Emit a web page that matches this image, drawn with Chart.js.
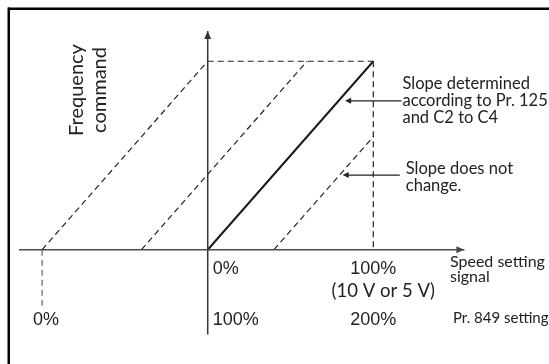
<!DOCTYPE html>
<html>
<head>
<meta charset="utf-8">
<script src="https://cdn.jsdelivr.net/npm/chart.js@4"></script>
<style>
html, body { margin: 0; padding: 0; background: #fff; }
#wrap { position: relative; width: 549px; height: 364px; }
</style>
</head>
<body>
<div id="wrap"><canvas id="chart" width="549" height="364"></canvas></div>
<script>
// speed setting signal (%) on x, frequency command (%) on y
const xAxisX = [-114, 155], xAxisY = [0, 0];
const yAxisX = [0, 0], yAxisY = [-45, 116];
const mainX = [0, 100], mainY = [0, 100];              // slope by Pr.125 / C2..C4
const fullLeftX = [-100, 0], fullLeftY = [0, 100];     // Pr.849 = 0%
const leftX = [-40, 60], leftY = [0, 100];
const rightX = [40, 100], rightY = [0, 60];
const maxFreqX = [0, 100], maxFreqY = [100, 100];
const maxSignalX = [100, 100], maxSignalY = [100, 0];
const pr849GuideX = [-100, -100], pr849GuideY = [0, -30];

// tick labels
const signalTicks = ['0%', '100%'];
const signalTickX = [0, 100];
const voltLabel = '(10 V or 5 V)';
const pr849Ticks = ['0%', '100%', '200%'];
const pr849TickX = [-100, 0, 100];
const rowY = [-9.2, -22.4, -36.8];

// annotations
const noteLines = [['Slope determined', 'according to Pr. 125', 'and C2 to C4'], ['Slope does not', 'change.']];
const noteArrowY = [79, 39.6];
const noteArrowFromX = [117, 116];
const noteArrowToX = [83, 81.5];

function pts(xs, ys) {
    return xs.map((x, i) => ({ x: x, y: ys[i] }));
}

function line(label, xs, ys, color, width, dash) {
    return {
        label: label,
        data: pts(xs, ys),
        showLine: true,
        borderColor: color,
        borderWidth: width,
        borderDash: dash || [],
        pointRadius: 0,
        fill: false,
        tension: 0
    };
}

function head(ctx, x, y, dx, dy, len, half) {
    // filled arrow head, tip at x,y, pointing along dx,dy
    let px = -dy, py = dx;
    ctx.beginPath();
    ctx.moveTo(x, y);
    ctx.lineTo(x - dx * len + px * half, y - dy * len + py * half);
    ctx.lineTo(x - dx * len - px * half, y - dy * len - py * half);
    ctx.closePath();
    ctx.fill();
}

const decor = {
    id: 'decor',
    beforeDraw(chart) {
        const ctx = chart.ctx;
        ctx.save();
        ctx.fillStyle = '#fff';
        ctx.fillRect(0, 0, chart.width, chart.height);
        ctx.fillStyle = '#000';
        ctx.fillRect(8, 7.5, chart.width - 8, 2.5);  // frame top
        ctx.fillRect(7.5, 7.5, 2.5, chart.height);   // frame left
        ctx.restore();
    },
    afterDatasetsDraw(chart) {
        const ctx = chart.ctx;
        const xs = chart.scales.x, ys = chart.scales.y;
        ctx.save();

        // axis arrow heads
        ctx.fillStyle = '#333';
        head(ctx, xs.getPixelForValue(0), ys.getPixelForValue(yAxisY[1]), 0, -1, 8, 3.5);
        ctx.fillStyle = '#4a4a4a';
        head(ctx, xs.getPixelForValue(xAxisX[1]), ys.getPixelForValue(0), 1, 0, 8, 3.5);

        // annotation arrows + text
        ctx.strokeStyle = '#222';
        ctx.fillStyle = '#222';
        ctx.lineWidth = 1.3;
        ctx.font = '16.5px Lato';
        ctx.textAlign = 'left';
        ctx.textBaseline = 'alphabetic';
        noteLines.forEach((lines, i) => {
            const y = ys.getPixelForValue(noteArrowY[i]);
            const x1 = xs.getPixelForValue(noteArrowFromX[i]);
            const x2 = xs.getPixelForValue(noteArrowToX[i]);
            ctx.beginPath();
            ctx.moveTo(x1, y);
            ctx.lineTo(x2 + 4, y);
            ctx.stroke();
            head(ctx, x2, y, -1, 0, 6, 3);
            const first = i === 0 ? y - 11.5 : y - 1;
            const tx = i === 0 ? x1 + 1 : x1 + 6;
            lines.forEach((t, j) => ctx.fillText(t, tx, first + j * 17));
        });

        // tick labels
        ctx.fillStyle = '#222';
        ctx.font = '18px "Liberation Sans", Arial';
        const r1 = ys.getPixelForValue(rowY[0]) + 7;
        const r2 = ys.getPixelForValue(rowY[1]) + 5;
        const r3 = ys.getPixelForValue(rowY[2]) + 6;
        signalTicks.forEach((t, i) => {
            const x = xs.getPixelForValue(signalTickX[i]);
            ctx.textAlign = i === 0 ? 'left' : 'center';
            ctx.fillText(t, i === 0 ? x + 5 : x, r1);
        });
        pr849Ticks.forEach((t, i) => {
            const x = xs.getPixelForValue(pr849TickX[i]);
            ctx.textAlign = i === 1 ? 'left' : 'center';
            ctx.fillText(t, i === 1 ? x + 5 : (i === 0 ? x + 4 : x), r3);
        });
        ctx.font = '18.5px Lato';
        ctx.textAlign = 'center';
        ctx.fillText(voltLabel, xs.getPixelForValue(100) + 10, r2);

        ctx.textAlign = 'left';
        ctx.font = '16px Lato';
        ctx.fillText('Speed setting', 450, 267);
        ctx.fillText('signal', 450, 282);
        ctx.font = '15px Lato';
        ctx.fillText('Pr. 849 setting', 453, 323);

        // y axis title
        ctx.translate(88, 90);
        ctx.rotate(-Math.PI / 2);
        ctx.font = '20px Lato';
        ctx.textAlign = 'center';
        ctx.textBaseline = 'middle';
        ctx.fillText('Frequency', 0, -11);
        ctx.fillText('command', 0, 12);
        ctx.restore();
    }
};

new Chart(document.getElementById('chart'), {
    type: 'scatter',
    data: {
        datasets: [
            line('x axis', xAxisX, xAxisY, '#4a4a4a', 1.6),
            line('y axis', yAxisX, yAxisY, '#333', 1.5),
            line('Pr.849 0% guide', pr849GuideX, pr849GuideY, '#888', 1.6, [6, 4]),
            line('max frequency', maxFreqX, maxFreqY, '#222', 1.2, [6, 4]),
            line('max signal', maxSignalX, maxSignalY, '#222', 1.2, [6, 4]),
            line('Pr.849 0%', fullLeftX, fullLeftY, '#222', 1.2, [6, 4]),
            line('shift left', leftX, leftY, '#222', 1.2, [6, 4]),
            line('shift right', rightX, rightY, '#222', 1.2, [6, 4]),
            line('Pr.849 100%', mainX, mainY, '#1a1a1a', 2)
        ]
    },
    options: {
        responsive: false,
        animation: false,
        layout: { padding: { left: 9, right: 10.1, top: 14.1, bottom: 10.6 } },
        scales: {
            x: { type: 'linear', display: false, min: -120, max: 200 },
            y: { type: 'linear', display: false, min: -55, max: 125 }
        },
        plugins: {
            legend: { display: false },
            tooltip: { enabled: false }
        }
    },
    plugins: [decor]
});
</script>
</body>
</html>
